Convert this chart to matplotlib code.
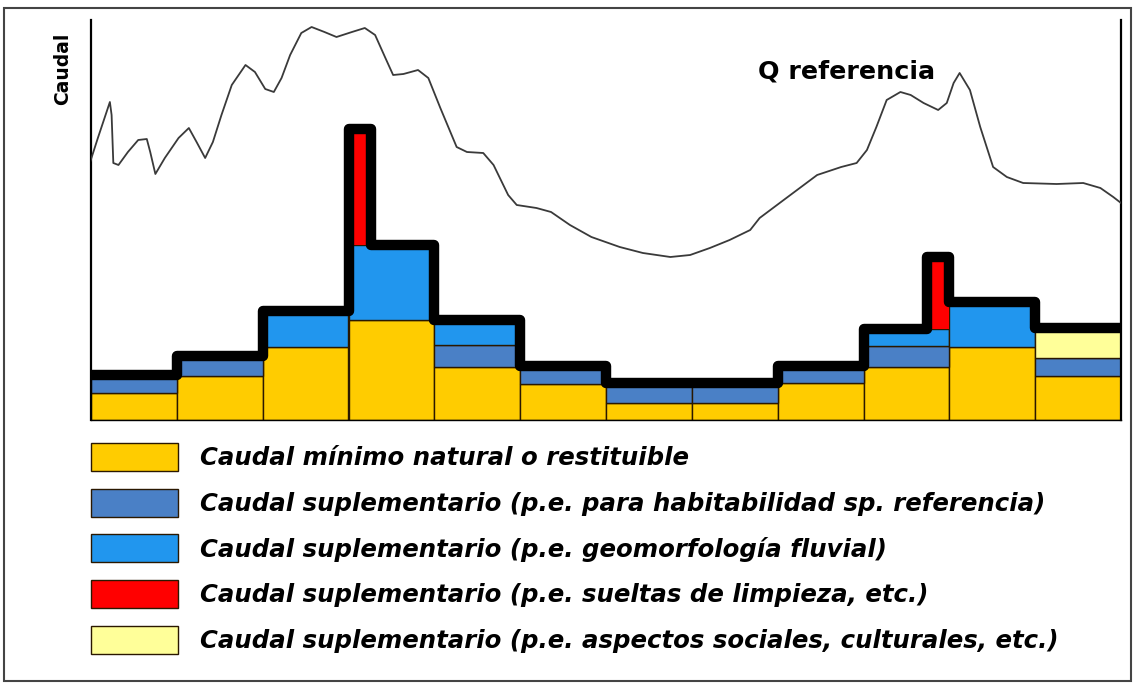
import numpy as np
import matplotlib
matplotlib.use("Agg")
import matplotlib.pyplot as plt
from matplotlib.patches import Patch, Rectangle

# ---------------- data ----------------
months = np.arange(12)
caudal_minimo = [26.7, 44.3, 73.3, 100.0, 53.3, 36.0, 16.7, 16.7, 36.7, 53.3, 73.3, 44.3]
sup_habitabilidad = [18.3, 19.4, 0.0, 0.0, 21.7, 18.3, 20.3, 20.3, 17.6, 20.7, 0.0, 18.0]
sup_geomorfologia = [0.0, 0.0, 35.4, 74.7, 25.3, 0.0, 0.0, 0.0, 0.0, 17.0, 44.4, 0.0]
sup_sociales = [0.0, 0.0, 0.0, 0.0, 0.0, 0.0, 0.0, 0.0, 0.0, 0.0, 0.0, 29.4]
sup_limpieza = [0.0, 0.0, 0.0, 116.8, 0.0, 0.0, 0.0, 0.0, 0.0, 72.5, 0.0, 0.0]

# reference flow curve (x in month units, y in flow units)
q_x = [-0.01, 0.08, 0.22, 0.24, 0.26, 0.32, 0.43, 0.55, 0.65, 0.69, 0.75, 0.86,
       1.02, 1.14, 1.23, 1.33, 1.42, 1.52, 1.64, 1.80, 1.91, 2.03, 2.13, 2.22,
       2.32, 2.45, 2.57, 2.72, 2.86, 3.04, 3.19, 3.31, 3.43, 3.52, 3.64, 3.81,
       3.93, 4.07, 4.26, 4.38, 4.57, 4.69, 4.86, 4.96, 5.19, 5.36, 5.58, 5.83,
       6.16, 6.43, 6.75, 6.98, 7.21, 7.44, 7.68, 7.79, 8.07, 8.46, 8.74, 8.92,
       9.04, 9.15, 9.27, 9.43, 9.55, 9.70, 9.87, 9.97, 10.05, 10.12, 10.24, 10.36,
       10.51, 10.67, 10.86, 11.25, 11.56, 11.76, 11.91, 12.0]
q_y = [258, 282, 318, 305, 257, 255, 268, 280, 281, 268, 246, 262,
       282, 292, 278, 262, 278, 305, 335, 355, 348, 331, 328, 342,
       365, 387, 393, 388, 383, 388, 392, 385, 362, 345, 346, 350,
       342, 312, 273, 268, 267, 255, 225, 215, 212, 208, 195, 183,
       173, 167, 163, 165, 172, 180, 190, 202, 220, 245, 253, 257,
       270, 293, 320, 328, 325, 317, 310, 317, 337, 347, 330, 293,
       253, 243, 237, 236, 237, 232, 223, 217]

# ---------------- style ----------------
c_yellow = "#FFCC00"
c_dkblue = "#4A80C6"
c_ltblue = "#2196EE"
c_red = "#FF0000"
c_ltyel = "#FFFF99"
edge = "#2a1800"

label_minimo = "Caudal mínimo natural o restituible"
label_hab = "Caudal suplementario (p.e. para habitabilidad sp. referencia)"
label_geo = "Caudal suplementario (p.e. geomorfología fluvial)"
label_limp = "Caudal suplementario (p.e. sueltas de limpieza, etc.)"
label_soc = "Caudal suplementario (p.e. aspectos sociales, culturales, etc.)"

W, H = 1136, 686
fig = plt.figure(figsize=(W / 100, H / 100), dpi=100)
fig.patch.set_facecolor("white")

ax = fig.add_axes([91 / W, 1 - 420 / H, (1121 - 91) / W, 400 / H])

bottom = np.zeros(12)
layers = [(caudal_minimo, c_yellow), (sup_habitabilidad, c_dkblue),
          (sup_geomorfologia, c_ltblue), (sup_sociales, c_ltyel)]
for vals, col in layers:
    vals = np.asarray(vals, dtype=float)
    m = vals > 0
    ax.bar(months[m], vals[m], width=1.0, bottom=bottom[m], align="edge",
           color=col, edgecolor=edge, linewidth=1.0, zorder=2)
    bottom = bottom + vals

totals = bottom.copy()

# red spikes: narrow columns on top of the stack
spike_offset = {3: 0.0, 9: 0.74}
spike_w = 0.26
lim = np.asarray(sup_limpieza, dtype=float)
for i in np.nonzero(lim > 0)[0]:
    ax.bar(i + spike_offset[i], lim[i], width=spike_w, bottom=totals[i],
           align="edge", color=c_red, edgecolor="none", zorder=2)

# thick black step outline over the tops
px, py = [], []
for i in months:
    t = totals[i]
    if lim[i] > 0:
        s0 = i + spike_offset[i]
        s1 = s0 + spike_w
        segs = [(i, s0, t), (s0, s1, t + lim[i]), (s1, i + 1, t)]
        segs = [sg for sg in segs if sg[1] - sg[0] > 1e-9]
    else:
        segs = [(i, i + 1, t)]
    for a, b, h in segs:
        px += [a, b]
        py += [h, h]
ax.plot(px, py, color="black", lw=7.5, solid_joinstyle="round",
        solid_capstyle="butt", zorder=3)

# reference flow
ax.plot(q_x, q_y, color="#3a3a3a", lw=1.3, zorder=4)
ax.text(7.77, 348, "Q referencia", fontsize=18.3, fontweight="bold",
        ha="left", va="center", zorder=5)

ax.set_xlim(0, 12)
ax.set_ylim(0, 400)
ax.set_xticks([])
ax.set_yticks([])
ax.spines["top"].set_visible(False)
ax.spines["left"].set_linewidth(1.6)
ax.spines["right"].set_linewidth(1.6)
ax.spines["bottom"].set_linewidth(1.0)
ax.set_facecolor("white")

fig.text(63 / W, 1 - 69 / H, "Caudal", rotation=90, fontsize=13.5,
         fontweight="bold", ha="center", va="center")

# legend
handles = [Patch(facecolor=c_yellow, edgecolor=edge),
           Patch(facecolor=c_dkblue, edgecolor=edge),
           Patch(facecolor=c_ltblue, edgecolor=edge),
           Patch(facecolor=c_red, edgecolor=edge),
           Patch(facecolor=c_ltyel, edgecolor=edge)]
labels = [label_minimo, label_hab, label_geo, label_limp, label_soc]
fs = 17.6
fpx = fs * 100 / 72
patch_h_pt = 28 * 72 / 100
hh = (patch_h_pt / fs - 0.245) / 0.65
leg = fig.legend(handles, labels, loc="upper left",
                 bbox_to_anchor=(91 / W, 1 - 443 / H),
                 frameon=False, borderaxespad=0, borderpad=0,
                 handlelength=87 / fpx, handleheight=hh,
                 handletextpad=22 / fpx, labelspacing=17.7 / fpx,
                 prop={"size": fs, "weight": "bold", "style": "italic"})

# outer frame
fig.patches.append(Rectangle((4 / W, 1 - 681 / H), (1131 - 4) / W, (681 - 8) / H,
                             transform=fig.transFigure, fill=False,
                             edgecolor="#444444", linewidth=1.5))

fig.savefig("out.png", dpi=100)
